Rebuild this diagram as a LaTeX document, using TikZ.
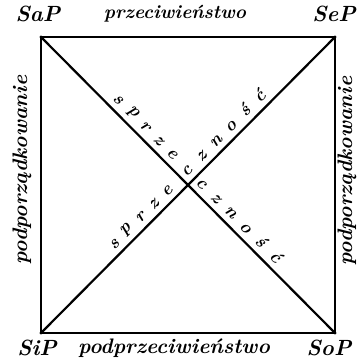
\documentclass[tikz,border=0pt]{standalone}
\usepackage{tikz}
\usetikzlibrary{positioning}

\begin{document}
\begin{tikzpicture}[
    x=1pt, y=-1pt,
    hand/.style={font=\fontsize{21}{21}\selectfont\bfseries\itshape, inner sep=0pt},
    corner/.style={hand, font=\fontsize{22}{22}\selectfont\bfseries\itshape},
    diag/.style={font=\fontsize{18}{18}\selectfont\bfseries\itshape, inner sep=0pt, sloped, above=6pt},
    edge/.style={line width=2.2pt, line cap=rect}
]
\useasboundingbox (0,0) rectangle (363,362);
\coordinate (sap) at (41,37);
\coordinate (sep) at (335,37);
\coordinate (sip) at (41,333);
\coordinate (sop) at (335,333);

\node[corner] (saplbl) at (38,14) {SaP};
\node[corner] (seplbl) at (334,14) {SeP};
\node[corner] (siplbl) at (37,348) {SiP};
\node[corner] (soplbl) at (329,348) {SoP};
\node[hand, font=\fontsize{19}{19}\selectfont\bfseries\itshape] (kontr) at (175,14) {przeciwieństwo};
\node[hand] (podkontr) at (174,348) {podprzeciwieństwo};
\node[hand, rotate=90] (podpl) at (22,170) {podporządkowanie};
\node[hand, rotate=90] (podpr) at (347,171) {podporządkowanie};

\draw[edge] (sap) -- (sep) -- (sop) -- (sip) -- cycle;
\draw[edge] (sap) -- (sop);
\draw[edge] (sip) -- (sep);

% sprzecznosc along both diagonals
\path (sap) -- (sop) foreach \l/\t in {s/.237,p/.283,r/.329,z/.375,e/.421,c/.520,z/.570,n/.620,o/.670,ś/.720,ć/.770} {node[diag, pos=\t] {\l}};
\path (sip) -- (sep) foreach \l/\t in {s/.275,p/.320,r/.365,z/.410,e/.455,c/.522,z/.572,n/.622,o/.672,ś/.722,ć/.772} {node[diag, pos=\t] {\l}};
\end{tikzpicture}
\end{document}
